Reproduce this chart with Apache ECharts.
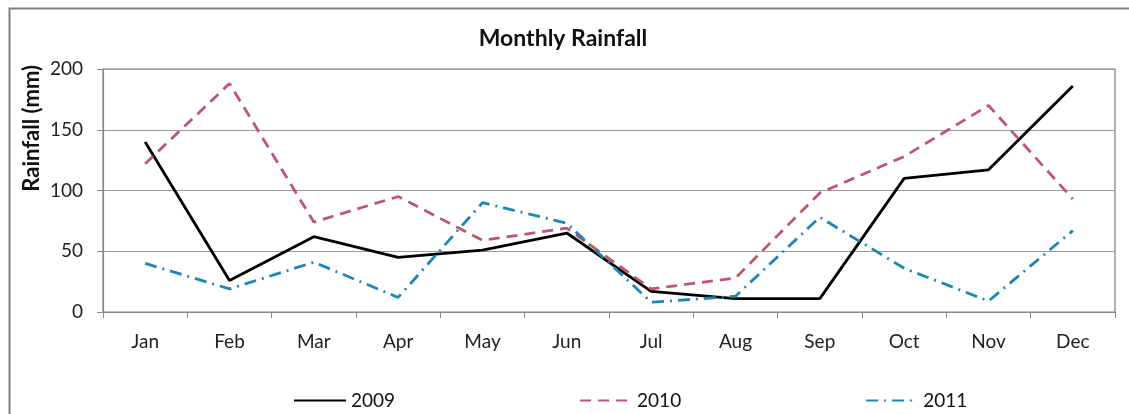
<!DOCTYPE html>
<html>
<head>
<meta charset="utf-8">
<script src="https://cdn.jsdelivr.net/npm/echarts@6/dist/echarts.min.js"></script>
<style>
  html, body { margin: 0; padding: 0; background: #fff; }
  #chart { width: 1129px; height: 414px; }
</style>
</head>
<body>
<div id="chart"></div>
<script>
// Monthly rainfall (mm) for three years
const months = ['Jan', 'Feb', 'Mar', 'Apr', 'May', 'Jun', 'Jul', 'Aug', 'Sep', 'Oct', 'Nov', 'Dec'];
const rain2009 = [140, 26, 62, 45, 51, 65, 17, 11, 11, 110, 117, 186];
const rain2010 = [122, 188, 74, 95, 59, 69, 19, 28, 98, 128, 170, 93];
const rain2011 = [40, 19, 41, 12, 90, 73, 8, 13, 78, 36, 9, 67];
const yTicks = [0, 50, 100, 150, 200];

const FONT = 'Lato';
const chart = echarts.init(document.getElementById('chart'), null, { renderer: 'canvas' });

const seriesDefs = [
  { name: '2009', data: rain2009, color: '#000000', type: 'solid', width: 2.8 },
  { name: '2010', data: rain2010, color: '#c0566a', type: [11, 7], width: 2.8 },
  { name: '2011', data: rain2011, color: '#1b86b8', type: [12, 6, 2, 6], width: 2.8 }
];

chart.setOption({
  animation: false,
  backgroundColor: '#ffffff',
  title: {
    text: 'Monthly Rainfall',
    left: 558, top: 22, textAlign: 'center',
    textStyle: { fontFamily: FONT, fontWeight: 'bold', fontSize: 23, color: '#111' }
  },
  graphic: [
    { type: 'rect', left: 7, top: 6, shape: { width: 1140, height: 420 },
      style: { fill: 'none', stroke: '#808080', lineWidth: 2 }, silent: true },
    { type: 'text', left: 21, top: 65, rotation: Math.PI / 2,
      style: { text: 'Rainfall (mm)', fontFamily: FONT, fontWeight: 'bold', fontSize: 22, fill: '#111' } }
  ],
  legend: {
    bottom: -1, left: 288,
    itemWidth: 52, itemHeight: 14, itemGap: 184,
    textStyle: { fontFamily: FONT, fontSize: 19, color: '#111' },
    itemStyle: { opacity: 0 },
    data: seriesDefs.map(s => s.name)
  },
  grid: { left: 103, top: 69, right: 14, bottom: 102, show: true, borderColor: '#7f7f7f', borderWidth: 1.2 },
  xAxis: {
    type: 'category', data: months, boundaryGap: true,
    axisLine: { lineStyle: { color: '#8a8a8a', width: 1.2 } },
    axisTick: { show: true, length: 6, lineStyle: { color: '#8a8a8a' } },
    axisLabel: { fontFamily: FONT, fontSize: 19, color: '#222', margin: 20 }
  },
  yAxis: {
    type: 'value', min: yTicks[0], max: yTicks[yTicks.length - 1], interval: 50,
    axisLine: { show: true, lineStyle: { color: '#8a8a8a', width: 1.2 } },
    axisTick: { show: true, length: 6, lineStyle: { color: '#8a8a8a' } },
    axisLabel: { fontFamily: FONT, fontSize: 19, color: '#222', margin: 20 },
    splitLine: { lineStyle: { color: '#9a9a9a', width: 1 } }
  },
  series: seriesDefs.map(s => ({
    name: s.name, type: 'line', data: s.data,
    symbol: 'none', smooth: false,
    itemStyle: { color: s.color },
    lineStyle: { color: s.color, width: s.width, type: s.type }
  }))
});
</script>
</body>
</html>
